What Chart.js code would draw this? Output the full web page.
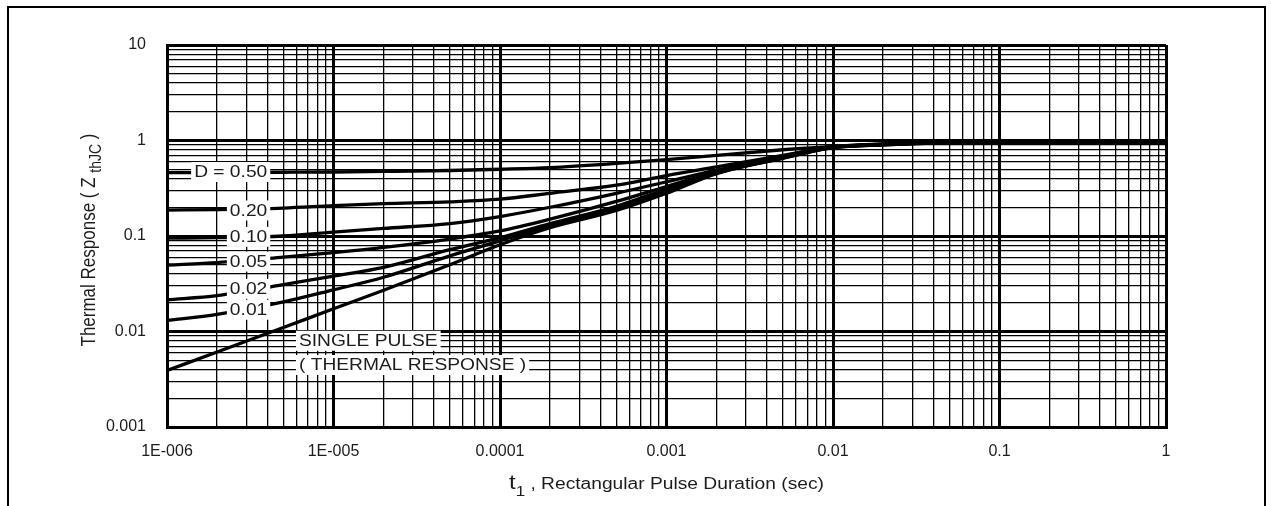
<!DOCTYPE html>
<html>
<head>
<meta charset="utf-8">
<script src="https://cdn.jsdelivr.net/npm/chart.js@4.4.1/dist/chart.umd.min.js"></script>
<style>
  html, body { margin: 0; padding: 0; background: #fff; }
  #wrap { width: 1271px; height: 506px; }
</style>
</head>
<body>
<div id="wrap"><canvas id="c"></canvas></div>
<script>
// pulse duration t1 (sec)
const pulseTimes = [1e-6, 2e-6, 5e-6, 1e-5, 2e-5, 5e-5, 1e-4, 2e-4, 5e-4, 1e-3, 2e-3, 5e-3, 1e-2, 2e-2, 5e-2, 0.1, 1];

// Zth(JC) per duty cycle
const zD50   = [0.46, 0.462, 0.465, 0.468, 0.474, 0.485, 0.50, 0.52, 0.575, 0.63, 0.70, 0.80, 0.87, 0.92, 0.95, 0.96, 0.97];
const zD20   = [0.187, 0.189, 0.196, 0.208, 0.218, 0.228, 0.243, 0.28, 0.34, 0.43, 0.53, 0.70, 0.86, 0.915, 0.95, 0.96, 0.97];
const zD10   = [0.095, 0.096, 0.10, 0.11, 0.12, 0.135, 0.16, 0.20, 0.28, 0.37, 0.49, 0.68, 0.85, 0.91, 0.95, 0.96, 0.97];
const zD05   = [0.0497, 0.0526, 0.060, 0.067, 0.076, 0.093, 0.113, 0.15, 0.23, 0.33, 0.47, 0.67, 0.85, 0.91, 0.95, 0.96, 0.97];
const zD02   = [0.0215, 0.0237, 0.031, 0.038, 0.047, 0.072, 0.096, 0.135, 0.205, 0.31, 0.46, 0.66, 0.845, 0.905, 0.95, 0.96, 0.97];
const zD01   = [0.013, 0.0151, 0.0204, 0.0273, 0.037, 0.062, 0.089, 0.128, 0.195, 0.30, 0.455, 0.655, 0.84, 0.90, 0.95, 0.96, 0.97];
const zSingle = [0.0039, 0.0061, 0.011, 0.0173, 0.027, 0.050, 0.081, 0.122, 0.185, 0.28, 0.45, 0.65, 0.84, 0.90, 0.95, 0.96, 0.97];

// axis decades and their printed labels
const xDecades = [1e-6, 1e-5, 1e-4, 1e-3, 1e-2, 0.1, 1];
const xTickLabels = ['1E-006', '1E-005', '0.0001', '0.001', '0.01', '0.1', '1'];
const yDecades = [0.001, 0.01, 0.1, 1, 10];
const yTickLabels = ['0.001', '0.01', '0.1', '1', '10'];

// in-plot curve labels (anchored in data coordinates)
const curveNotes = [
  { text: 'D = 0.50', t: 4e-6, z: 0.468, align: 'right' },
  { text: '0.20', t: 4e-6, z: 0.185, align: 'right' },
  { text: '0.10', t: 4e-6, z: 0.098, align: 'right' },
  { text: '0.05', t: 4e-6, z: 0.054, align: 'right' },
  { text: '0.02', t: 4e-6, z: 0.028, align: 'right' },
  { text: '0.01', t: 4e-6, z: 0.0169, align: 'right' },
  { text: 'SINGLE PULSE', t: 6.2e-6, z: 0.008, align: 'left' },
  { text: '( THERMAL RESPONSE )', t: 6.2e-6, z: 0.00446, align: 'left' },
];

const INK = '#1c1c1c';
const FONT = '"Liberation Sans", Arial, Helvetica, sans-serif';
const SX = 1.2; // the scan is a bit wide

const isDecade = v => Math.abs(Math.log10(v) - Math.round(Math.log10(v))) < 1e-9;
const findLabel = (v, decs, labels) => {
  const i = decs.findIndex(d => Math.abs(d - v) / d < 1e-6);
  return i >= 0 ? labels[i] : '';
};

function logTicks(lo, hi) {
  const out = [];
  for (let e = lo; e < hi; e++) {
    for (let m = 1; m <= 9; m++) out.push({ value: m * Math.pow(10, e) });
  }
  out.push({ value: Math.pow(10, hi) });
  return out;
}

function series(z) {
  return pulseTimes.map((t, i) => ({ x: t, y: z[i] }));
}

function pieceWidth(ctx, p) {
  ctx.font = p.size + 'px ' + FONT;
  return ctx.measureText(p.text).width * SX;
}

const paperPlugin = {
  id: 'paper',
  beforeDraw(chart) {
    const ctx = chart.ctx;
    ctx.save();
    ctx.fillStyle = '#fff';
    ctx.fillRect(0, 0, chart.width, chart.height);
    ctx.strokeStyle = '#000';
    ctx.lineWidth = 2;
    ctx.strokeRect(8, 7, 1257, 600);
    ctx.restore();
  },
  afterDatasetsDraw(chart) {
    const ctx = chart.ctx;
    const xs = chart.scales.x, ys = chart.scales.y;
    ctx.save();
    ctx.textBaseline = 'middle';
    curveNotes.forEach(n => {
      const px = xs.getPixelForValue(n.t);
      const py = ys.getPixelForValue(n.z);
      const w = pieceWidth(ctx, { text: n.text, size: 16 });
      const x0 = n.align === 'right' ? px - w : px;
      ctx.fillStyle = '#fff';
      ctx.fillRect(x0 - 3, py - 10, w + 6, 20);
      ctx.fillStyle = INK;
      ctx.save();
      ctx.translate(x0, py);
      ctx.scale(SX, 1);
      ctx.textAlign = 'left';
      ctx.fillText(n.text, 0, 1);
      ctx.restore();
    });
    ctx.restore();
  },
  afterDraw(chart) {
    const ctx = chart.ctx;
    const a = chart.chartArea;
    ctx.save();
    ctx.fillStyle = INK;
    ctx.textBaseline = 'alphabetic';
    ctx.textAlign = 'left';

    // x title: t1 , Rectangular Pulse Duration (sec)
    const xt = [
      { text: 't', size: 20, dy: 0 },
      { text: '1', size: 14, dy: 7 },
      { text: ' , Rectangular Pulse Duration (sec)', size: 16, dy: 0 },
    ];
    let total = xt.reduce((s, p) => s + pieceWidth(ctx, p), 0);
    let x = (a.left + a.right) / 2 - total / 2;
    const base = a.bottom + 62;
    xt.forEach(p => {
      const w = pieceWidth(ctx, p);
      ctx.save();
      ctx.translate(x, base + p.dy);
      ctx.scale(SX, 1);
      ctx.fillText(p.text, 0, 0);
      ctx.restore();
      x += w;
    });

    // y title: Thermal Response ( Z thJC )
    const yt = [
      { text: 'Thermal Response ( Z ', size: 17, dy: 0 },
      { text: 'thJC', size: 14, dy: 5 },
      { text: ' )', size: 17, dy: 0 },
    ];
    ctx.translate(a.left - 72, (a.top + a.bottom) / 2 + 4);
    ctx.rotate(-Math.PI / 2);
    ctx.scale(1, SX);
    total = yt.reduce((s, p) => s + pieceWidth(ctx, p) / SX, 0);
    x = -total / 2;
    yt.forEach(p => {
      ctx.font = p.size + 'px ' + FONT;
      ctx.fillText(p.text, x, p.dy);
      x += ctx.measureText(p.text).width;
    });
    ctx.restore();
  }
};

const gridWidth = c => (c.tick && isDecade(c.tick.value)) ? 3 : 1.3;

const curves = [zD50, zD20, zD10, zD05, zD02, zD01, zSingle];
const names = ['D = 0.50', 'D = 0.20', 'D = 0.10', 'D = 0.05', 'D = 0.02', 'D = 0.01', 'Single pulse'];

new Chart(document.getElementById('c'), {
  type: 'line',
  data: {
    datasets: curves.map((z, i) => ({
      label: names[i],
      data: series(z),
      borderColor: '#000',
      borderWidth: 3.3,
      pointRadius: 0,
      fill: false,
      cubicInterpolationMode: 'monotone',
    })),
  },
  options: {
    responsive: true,
    maintainAspectRatio: false,
    animation: false,
    events: [],
    layout: { padding: { left: 0, right: 105, top: 45, bottom: 0 } },
    plugins: { legend: { display: false }, tooltip: { enabled: false } },
    scales: {
      x: {
        type: 'logarithmic',
        min: 1e-6,
        max: 1,
        afterBuildTicks: s => { s.ticks = logTicks(-6, 0); },
        afterFit: s => { s.height = 79; },
        grid: { color: '#000', lineWidth: gridWidth, drawTicks: false },
        border: { color: '#000', width: 3 },
        ticks: {
          autoSkip: false,
          maxRotation: 0,
          minRotation: 0,
          padding: 15,
          color: INK,
          font: { family: FONT, size: 16 },
          callback: v => findLabel(v, xDecades, xTickLabels),
        },
      },
      y: {
        type: 'logarithmic',
        min: 0.001,
        max: 10,
        afterBuildTicks: s => { s.ticks = logTicks(-3, 1); },
        afterFit: s => { s.width = 167; },
        grid: { color: '#000', lineWidth: gridWidth, drawTicks: false },
        border: { color: '#000', width: 3 },
        ticks: {
          autoSkip: false,
          padding: 21,
          color: INK,
          font: { family: FONT, size: 16 },
          callback: v => findLabel(v, yDecades, yTickLabels),
        },
      },
    },
  },
  plugins: [paperPlugin],
});
</script>
</body>
</html>
